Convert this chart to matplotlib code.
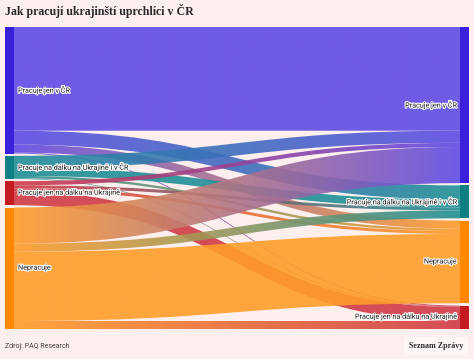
import matplotlib
matplotlib.use("Agg")
import matplotlib.pyplot as plt
import matplotlib.patheffects as pe
from matplotlib.path import Path
from matplotlib.patches import PathPatch, Rectangle
from matplotlib.colors import to_rgb
import numpy as np

title = "Jak pracují ukrajinští uprchlíci v ČR"
source_text = "Zdroj: PAQ Research"
brand = "Seznam Zprávy"

categories = ["Pracuje jen v ČR", "Pracuje na dálku na Ukrajině i v ČR",
              "Pracuje jen na dálku na Ukrajině", "Nepracuje"]
left_order = [0, 1, 2, 3]
right_order = [0, 1, 3, 2]
node_colors = ["#3a1fdd", "#0f7f86", "#c41a22", "#ff8800"]
link_colors = ["#5f4be6", "#1f9096", "#d03a46", "#ff9d2a"]

# flows[i][j]: share (%) from category i (before) to category j (now)
flows = [
    [35.0, 4.7, 0.3, 2.7],
    [4.1, 2.7, 0.2, 0.8],
    [1.4, 1.0, 4.7, 1.0],
    [12.2, 2.7, 2.7, 23.4],
]

bg = "#fcefed"
W, H = 474, 359
top, bottom, gap = 27, 329, 2.3
xl, xr, nw = 5, 469, 9

fig = plt.figure(figsize=(W / 100, H / 100), dpi=100, facecolor=bg)
ax = fig.add_axes([0, 0, 1, 1])
ax.set_facecolor(bg)
ax.axis("off")

flows = np.array(flows)
left_tot = flows.sum(axis=1)
right_tot = flows.sum(axis=0)
scale = (bottom - top - 3 * gap) / max(left_tot.sum(), right_tot.sum())


def stack(order, totals):
    pos = {}
    y = top
    for k in order:
        h = totals[k] * scale
        pos[k] = (y, y + h)
        y += h + gap
    return pos


left_pos = stack(left_order, left_tot)
right_pos = stack(right_order, right_tot)

src_seg, tgt_seg = {}, {}
for i in left_order:
    y = left_pos[i][0]
    for j in right_order:
        h = flows[i][j] * scale
        src_seg[(i, j)] = (y, y + h)
        y += h
for j in right_order:
    y = right_pos[j][0]
    for i in left_order:
        h = flows[i][j] * scale
        tgt_seg[(i, j)] = (y, y + h)
        y += h

x0, x1 = xl + nw, xr - nw
xm = (x0 + x1) / 2
for i in left_order:
    for j in right_order:
        if flows[i][j] <= 0:
            continue
        s0, s1 = src_seg[(i, j)]
        t0, t1 = tgt_seg[(i, j)]
        verts = [(x0, s0), (xm, s0), (xm, t0), (x1, t0), (x1, t1),
                 (xm, t1), (xm, s1), (x0, s1), (x0, s0)]
        codes = [Path.MOVETO, Path.CURVE4, Path.CURVE4, Path.CURVE4,
                 Path.LINETO, Path.CURVE4, Path.CURVE4, Path.CURVE4,
                 Path.CLOSEPOLY]
        patch = PathPatch(Path(verts, codes), facecolor="none", edgecolor="none")
        ax.add_patch(patch)
        c0, c1 = np.array(to_rgb(link_colors[i])), np.array(to_rgb(link_colors[j]))
        t = np.linspace(0, 1, 256)[:, None]
        grad = np.ones((1, 256, 4))
        grad[0, :, :3] = c0 * (1 - t) + c1 * t
        grad[0, :, 3] = 0.9
        im = ax.imshow(grad, extent=[x0, x1, H, 0], aspect="auto",
                       interpolation="bilinear")
        im.set_clip_path(patch)

halo = [pe.withStroke(linewidth=1.6, foreground="white")]
lab_font = ["Liberation Sans Narrow", "Roboto", "DejaVu Sans"]
for k in left_order:
    y0, y1 = left_pos[k]
    ax.add_patch(Rectangle((xl, y0), nw, y1 - y0, color=node_colors[k], lw=0))
    ax.text(xl + nw + 4, (y0 + y1) / 2, categories[k], ha="left", va="center",
            fontsize=5.2, family=lab_font, color="#222222", path_effects=halo)
for k in right_order:
    y0, y1 = right_pos[k]
    ax.add_patch(Rectangle((xr - nw, y0), nw, y1 - y0, color=node_colors[k], lw=0))
    ax.text(xr - nw - 3, (y0 + y1) / 2, categories[k], ha="right", va="center",
            fontsize=5.2, family=lab_font, color="#222222", path_effects=halo)

ax.text(5, 11, title, ha="left", va="center", fontsize=8.6, fontweight="bold",
        family="Liberation Serif", color="#2a2a2a")
ax.text(5, 346, source_text, ha="left", va="center", fontsize=5,
        family=lab_font, color="#444444")
ax.text(463, 346, brand, ha="right", va="center", fontsize=5.8, fontweight="bold",
        family="Liberation Serif", color="#2a2a2a",
        bbox=dict(boxstyle="square,pad=0.6", facecolor="#fdf6f5", edgecolor="none"))

ax.set_xlim(0, W)
ax.set_ylim(H, 0)
fig.savefig("out.png", dpi=100, facecolor=bg)
